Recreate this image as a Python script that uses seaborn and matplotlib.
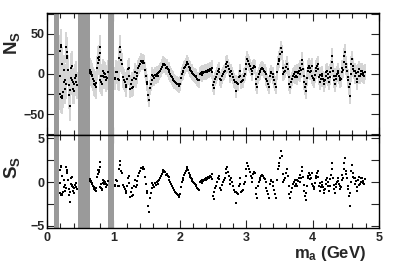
import numpy as np
import pandas as pd
import matplotlib
matplotlib.use("Agg")
import matplotlib.pyplot as plt
import seaborn as sns

# mass points (GeV), signal yield N_S and its uncertainty
mass = [
    # 0.19 - 0.45
    0.190, 0.195, 0.200, 0.205, 0.210, 0.215, 0.220, 0.225, 0.230, 0.240,
    0.250, 0.260, 0.270, 0.275, 0.285, 0.290, 0.295, 0.300, 0.305, 0.315,
    0.325, 0.335, 0.340, 0.350, 0.360, 0.365, 0.370, 0.375, 0.380, 0.385,
    0.390, 0.400, 0.410, 0.420, 0.430, 0.435, 0.440, 0.450,
    # 0.64 - 0.91
    0.640, 0.645, 0.650, 0.655, 0.660, 0.670, 0.680, 0.690, 0.700, 0.710,
    0.720, 0.730, 0.740, 0.750, 0.760, 0.770, 0.775, 0.780, 0.790, 0.795,
    0.800, 0.805, 0.810, 0.820, 0.830, 0.840, 0.845, 0.850, 0.860, 0.870,
    0.880, 0.890, 0.900, 0.910,
    # 1.02 - 1.25
    1.020, 1.030, 1.045, 1.055, 1.065, 1.080, 1.090, 1.095, 1.105, 1.115,
    1.130, 1.145, 1.155, 1.170, 1.185, 1.195, 1.205, 1.220, 1.230, 1.240,
    # 1.25 - 2.5
    1.255, 1.265, 1.275, 1.285, 1.300, 1.310, 1.325, 1.335, 1.350, 1.360,
    1.375, 1.390, 1.400, 1.415, 1.425, 1.440, 1.450, 1.460, 1.475, 1.490,
    1.500, 1.510, 1.525, 1.535, 1.550, 1.560, 1.575, 1.585, 1.600, 1.610,
    1.625, 1.640, 1.650, 1.665, 1.675, 1.690, 1.700, 1.715, 1.725, 1.740,
    1.750, 1.765, 1.775, 1.790, 1.800, 1.815, 1.830, 1.840, 1.850, 1.865,
    1.875, 1.890, 1.900, 1.915, 1.930, 1.940, 1.950, 1.965, 1.980, 1.990,
    2.000, 2.015, 2.030, 2.040, 2.050, 2.065, 2.080, 2.090, 2.100, 2.110,
    2.125, 2.140, 2.150, 2.160, 2.175, 2.180, 2.190, 2.200, 2.215, 2.230,
    2.240, 2.250, 2.265, 2.280, 2.290, 2.300, 2.315, 2.330, 2.340, 2.350,
    2.365, 2.380, 2.390, 2.400, 2.415, 2.430, 2.440, 2.450, 2.465, 2.480,
    2.490, 2.500,
    # 2.5 - 3.75
    2.510, 2.520, 2.530, 2.545, 2.555, 2.570, 2.585, 2.595, 2.610, 2.620,
    2.635, 2.650, 2.665, 2.675, 2.690, 2.700, 2.710, 2.720, 2.735, 2.750,
    2.760, 2.775, 2.790, 2.800, 2.815, 2.825, 2.840, 2.850, 2.865, 2.875,
    2.890, 2.900, 2.910, 2.925, 2.940, 2.950, 2.960, 2.975, 2.990, 3.000,
    3.015, 3.025, 3.040, 3.050, 3.065, 3.080, 3.090, 3.100, 3.115, 3.125,
    3.140, 3.150, 3.165, 3.175, 3.190, 3.200, 3.210, 3.225, 3.240, 3.250,
    3.265, 3.280, 3.290, 3.300, 3.315, 3.330, 3.345, 3.355, 3.370, 3.380,
    3.400, 3.410, 3.420, 3.435, 3.450, 3.465, 3.480, 3.490, 3.500, 3.515,
    3.525, 3.535, 3.550, 3.560, 3.575, 3.590, 3.600, 3.610, 3.625, 3.640,
    3.650, 3.660, 3.675, 3.690, 3.700, 3.715, 3.730, 3.740,
    # 3.75 - 4.8
    3.750, 3.760, 3.770, 3.780, 3.795, 3.805, 3.815, 3.825, 3.835, 3.845,
    3.855, 3.865, 3.875, 3.885, 3.895, 3.905, 3.915, 3.925, 3.935, 3.945,
    3.955, 3.965, 3.975, 3.985, 3.995, 4.005, 4.015, 4.025, 4.035, 4.045,
    4.055, 4.065, 4.075, 4.085, 4.095, 4.105, 4.115, 4.125, 4.135, 4.145,
    4.155, 4.165, 4.175, 4.185, 4.195, 4.205, 4.215, 4.225, 4.235, 4.245,
    4.255, 4.265, 4.275, 4.285, 4.295, 4.305, 4.315, 4.325, 4.335, 4.345,
    4.355, 4.365, 4.375, 4.385, 4.395, 4.405, 4.415, 4.425, 4.435, 4.445,
    4.455, 4.465, 4.475, 4.485, 4.495, 4.505, 4.515, 4.525, 4.535, 4.545,
    4.555, 4.565, 4.575, 4.585, 4.595, 4.605, 4.615, 4.625, 4.635, 4.645,
    4.655, 4.665, 4.675, 4.685, 4.695, 4.705, 4.715, 4.725, 4.735, 4.745,
    4.755, 4.765, 4.775, 4.785,
]

n_sig = [
    -25, -3, 28, -29, 36, 34, -30, 13, -27, -22,
    5, -10, -7, -19, -12, 33, 27, 22, 20, 5,
    -26, -14, -40, -20, -5, 8, -7, 10, -8, -19,
    -10, -21, -12, -5, -2, -10, -1, -14,
    5, 1, 4, 0, 2, -1, -3, -6, -9, -12,
    -14, -16, -11, 8, 14, 20, 17, 21, 34, 26,
    -8, -3, -10, -13, -12, 4, -2, 1, -4, 0,
    -4, -8, -5, 2,
    -6, -5, 3, 2, -6, -7, 20, 27, 34, 17,
    13, -4, -7, -10, -14, -16, -6, 6, 8, -2,
    -19, -12, -18, -8, -16, -5, 3, -6, 1, -3,
    7, 10, 13, 16, 15, 14, 16, 14, 5, -2,
    -10, -12, -26, -32, -17, -12, -7, -1, -3, -5,
    -1, -3, 0, -2, 1, 2, 4, 6, 9, 11,
    13, 12, 11, 8, 9, 6, 5, 2, 0, -2,
    -4, -6, -7, -9, -10, -11, -12, -13, -14, -15,
    -12, -5, 0, 2, 4, 7, 9, 11, 13, 15,
    12, 9, 7, 5, 4, 3, 1, 0, -1, -2,
    -3, -4, -6, -7, -8, 0, 1, 2, -1, 1,
    2, 3, 2, 4, 3, 5, 4, 6, 5, 8,
    3, -14,
    -17, -10, -6, -4, 0, 4, 6, 3, -6, -8,
    -3, 0, 2, 4, 9, 13, 15, 10, 6, 2,
    -2, 4, 0, -4, -8, -10, -21, -10, -11, -12,
    -4, 4, -2, -10, -9, -8, -2, 0, 6, 13,
    19, 16, 13, 10, 6, 0, 4, 8, 10, 9,
    -6, -12, -16, -4, 0, 2, 4, 6, 7, 6,
    4, 3, 0, -6, -9, -12, -16, -2, 2, 1,
    0, -4, -8, -12, -16, 2, 13, 16, 19, 25,
    32, 27, 8, 0, 2, 4, 9, 13, 6, -4,
    -12, -16, -10, -6, -2, 0, 2, -4,
    -2, 2, -4, 1, 4, 0, 8, 5, 13, 17,
    6, -3, -10, -16, -21, -12, -5, 4, 7, 10,
    3, 8, 4, 10, -2, -5, -8, -6, -1, 4,
    7, 10, 13, 6, -4, -1, -10, -6, 0, -3,
    -6, -9, -12, -8, -2, 2, 4, 0, -5, -10,
    -4, 3, 8, 22, 15, 4, -3, -8, -12, -6,
    -2, 0, 4, 1, -2, -5, -8, -6, 2, 8,
    5, 15, 22, 27, 13, 9, 4, -4, -8, -16,
    -27, -12, 0, 13, 19, 10, 6, 4, -2, 4,
    1, -6, -10, 2, 6, -3, -2, 4, 0, 4,
    -1, 1, -2, 3,
]

# uncertainty on N_S, one block per mass region above
n_err = (
    [20] * 10 + [19] * 10 + [18] * 10 + [17] * 8
    + [15] * 34
    + [14] * 10 + [13] * 6 + [12] * 4
    + [11] * 8 + [10] * 6 + [9.5] * 40 + [9] * 48
    + [9] * 98
    + [10] * 104
)

vetoed = [(0.11, 0.185), (0.46, 0.64), (0.915, 1.015)]

df = pd.DataFrame({"mass": mass, "ns": n_sig, "err": n_err})
df["ss"] = df["ns"] / df["err"]

sns.set_style("ticks")
plt.rcParams["font.family"] = ["Liberation Sans", "DejaVu Sans"]
plt.rcParams["font.weight"] = "bold"
plt.rcParams["mathtext.fontset"] = "custom"
plt.rcParams["mathtext.rm"] = "Liberation Sans:bold"
plt.rcParams["mathtext.bf"] = "Liberation Sans:bold"
plt.rcParams["mathtext.it"] = "Liberation Sans:bold"

fig = plt.figure(figsize=(3.99, 2.70), dpi=100)
ax1 = fig.add_axes([0.118, 0.5, 0.832, 0.452])
ax2 = fig.add_axes([0.118, 0.156, 0.832, 0.344], sharex=ax1)

# top panel: yield with error band
ax1.vlines(df["mass"], df["ns"] - df["err"], df["ns"] + df["err"],
           color="#d4d4d4", linewidth=1.4, zorder=1)
sns.scatterplot(data=df, x="mass", y="ns", ax=ax1, marker="s", s=2.5,
                color="black", linewidth=0, zorder=3, legend=False)

# bottom panel: significance
sns.scatterplot(data=df, x="mass", y="ss", ax=ax2, marker="s", s=2.5,
                color="black", linewidth=0, zorder=3, legend=False)

for ax in (ax1, ax2):
    for lo, hi in vetoed:
        ax.axvspan(lo, hi, color="#9a9a9a", linewidth=0, zorder=2)
    ax.set_xlim(0, 5)
    ax.set_xticks([0, 1, 2, 3, 4, 5])
    ax.set_xticks(np.arange(0, 5.01, 0.2), minor=True)
    ax.tick_params(which="both", direction="in", top=True, right=True,
                   width=0.8, labelsize=9, pad=2)
    ax.tick_params(which="major", length=6)
    ax.tick_params(which="minor", length=3.5)
    ax.set_xlabel("")
    ax.set_ylabel("")
    for sp in ax.spines.values():
        sp.set_linewidth(1.0)
        sp.set_color("black")

ax1.set_ylim(-76, 76)
ax1.set_yticks([-50, 0, 50])
ax1.set_yticks([-75, -25, 25, 75], minor=True)
ax1.tick_params(axis="y", which="minor", length=6)
ax1.tick_params(axis="x", labelbottom=False)

ax2.set_ylim(-5.22, 5.35)
ax2.set_yticks([-5, 0, 5])
ax2.set_yticks([-2.5, 2.5], minor=True)
ax2.tick_params(axis="y", which="minor", length=6)
ax2.tick_params(axis="x", pad=3)

for lab in ax1.get_yticklabels() + ax2.get_yticklabels() + ax2.get_xticklabels():
    lab.set_fontweight("bold")

fig.text(0.03, 0.84, r"$\mathbf{N_S}$", rotation=90, fontsize=13.5,
         ha="center", va="center")
fig.text(0.03, 0.38, r"$\mathbf{S_S}$", rotation=90, fontsize=13.5,
         ha="center", va="center")
fig.text(0.918, 0.06, r"$\mathbf{m_a}$ (GeV)", fontsize=12,
         fontweight="bold", ha="right", va="center")

fig.savefig("out.png", dpi=100)
